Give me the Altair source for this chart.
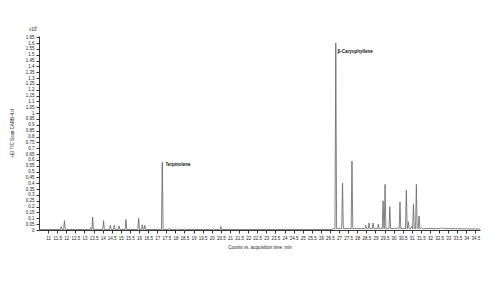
import altair as alt
import pandas as pd
import numpy as np

# Peak apex times (min) and heights (x10^7 counts)
peak_times = [11.72, 11.90, 13.36, 13.45, 14.05, 14.42, 14.64, 14.90, 15.28, 15.98,
              16.18, 16.32, 17.28, 17.66, 18.10, 18.50, 20.10, 20.50, 26.82, 27.19,
              27.71, 28.47, 28.65, 28.87, 29.16, 29.42, 29.53, 29.79, 30.19, 30.35,
              30.70, 30.81, 30.99, 31.09, 31.25, 31.40, 31.53, 32.63, 32.75]
peak_heights = [0.03, 0.08, 0.02, 0.11, 0.08, 0.04, 0.04, 0.035, 0.09, 0.10,
                0.045, 0.04, 0.58, 0.015, 0.01, 0.01, 0.01, 0.03, 1.60, 0.40,
                0.59, 0.04, 0.06, 0.06, 0.05, 0.25, 0.39, 0.20, 0.02, 0.24,
                0.34, 0.07, 0.03, 0.22, 0.39, 0.12, 0.02, 0.02, 0.015]
peak_halfwidth = 0.045

baseline_times = [10.5, 26.55, 26.75, 33.0, 34.75]
baseline_levels = [0.004, 0.004, 0.012, 0.012, 0.008]

label_names = ["Terpinolene", "β-Caryophyllene"]
label_times = [17.45, 26.92]
label_values = [0.555, 1.525]

x_ticks = [11 + 0.5 * i for i in range(48)]
y_ticks = [round(0.05 * i, 2) for i in range(34)]

rows = list(zip(baseline_times, baseline_levels))
for t, h in zip(peak_times, peak_heights):
    b = float(np.interp(t, baseline_times, baseline_levels))
    rows += [(t - peak_halfwidth, b), (t, h), (t + peak_halfwidth, b)]
df = pd.DataFrame(rows, columns=["time", "counts"]).sort_values("time").reset_index(drop=True)
df["i"] = range(len(df))

labels = pd.DataFrame({"name": label_names, "time": label_times, "counts": label_values})

FONT = "Liberation Sans"
FS = 4.5

xscale = alt.Scale(domain=[10.5, 34.75], nice=False, zero=False)
yscale = alt.Scale(domain=[0, 1.66], nice=False)

xaxis = alt.Axis(values=x_ticks, format="~g", title="Counts vs. acquisition time, min",
                 labelFontSize=FS, titleFontSize=FS, tickSize=3, labelPadding=2,
                 titlePadding=5, grid=False, labelOverlap=False, labelFlush=False,
                 domainColor="#333", tickColor="#333", labelColor="#222",
                 titleColor="#222", titleFontWeight="normal")
yaxis = alt.Axis(values=y_ticks, format="~g", title="+EI TIC Scan CARB-4.d",
                 labelFontSize=FS, titleFontSize=FS, tickSize=3, labelPadding=2,
                 grid=False, labelOverlap=False, labelFlush=False,
                 titleX=-27, titleY=97, titleAngle=-90, titleAlign="center",
                 titleBaseline="middle",
                 domainColor="#333", tickColor="#333", labelColor="#222",
                 titleColor="#222", titleFontWeight="normal")

line = alt.Chart(df).mark_line(color="#626262", strokeWidth=0.8).encode(
    x=alt.X("time:Q", scale=xscale, axis=xaxis),
    y=alt.Y("counts:Q", scale=yscale, axis=yaxis),
    order="i:Q",
)

text = alt.Chart(labels).mark_text(align="left", baseline="middle", fontSize=FS,
                                   fontWeight="bold", font=FONT, color="#111").encode(
    x=alt.X("time:Q", scale=xscale, axis=xaxis),
    y=alt.Y("counts:Q", scale=yscale, axis=yaxis),
    text="name:N",
)

exp = alt.Chart(pd.DataFrame({"t": ["x10"]})).mark_text(
    align="left", baseline="middle", fontSize=FS, font=FONT, color="#222").encode(
    x=alt.value(-10), y=alt.value(-6), text="t:N")
exp7 = alt.Chart(pd.DataFrame({"t": ["7"]})).mark_text(
    align="left", baseline="middle", fontSize=3, font=FONT, color="#222").encode(
    x=alt.value(-3.8), y=alt.value(-8), text="t:N")

chart = alt.layer(line, text, exp, exp7).properties(
    width=441, height=194,
    autosize=alt.AutoSizeParams(type="none"),
    padding={"left": 31, "top": 28, "right": 8, "bottom": 35},
).configure(font=FONT).configure_view(stroke=None)

chart.save("out.html", embed_options={"renderer": "svg", "actions": False})
